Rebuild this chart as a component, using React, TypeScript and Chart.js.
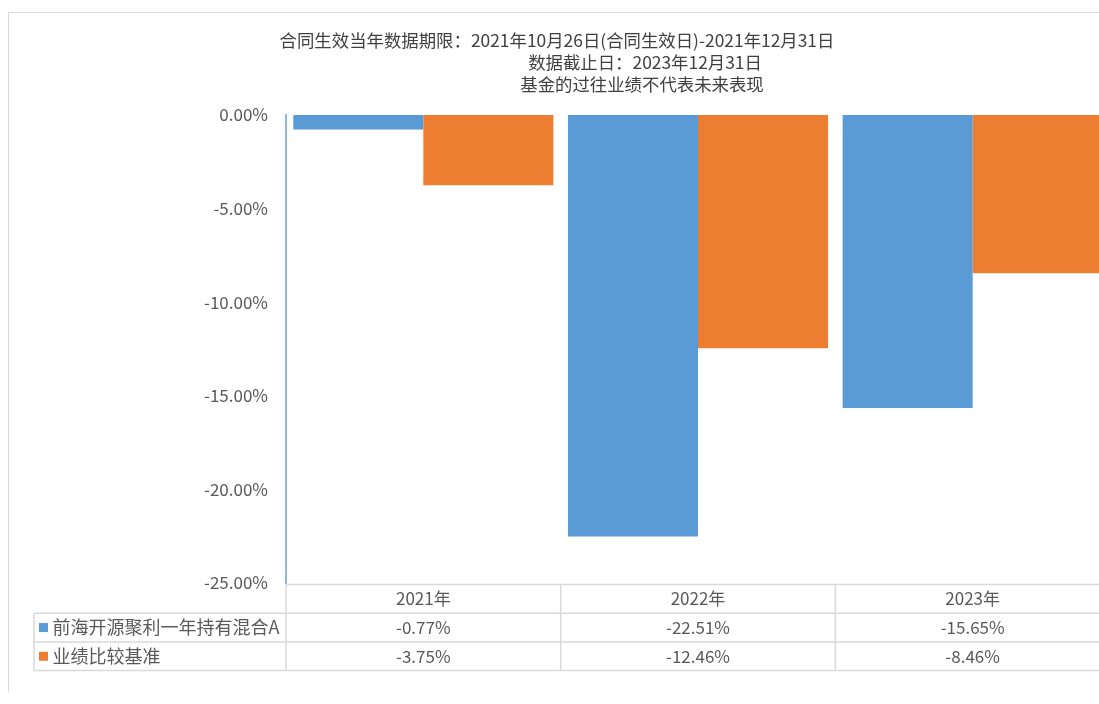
import React, { useEffect, useRef } from "react";
import { Chart, registerables } from "chart.js";

Chart.register(...registerables);

const categories = ["2021年", "2022年", "2023年"];
const seriesNames = ["前海开源聚利一年持有混合A", "业绩比较基准"];
const fundValues = [-0.77, -22.51, -15.65];
const benchValues = [-3.75, -12.46, -8.46];
const tableFund = ["-0.77%", "-22.51%", "-15.65%"];
const tableBench = ["-3.75%", "-12.46%", "-8.46%"];
const titleLines = [
  "合同生效当年数据期限：2021年10月26日(合同生效日)-2021年12月31日",
  "数据截止日：2023年12月31日",
  "基金的过往业绩不代表未来表现",
];
const yMin = -25;
const yMax = 0;
const yStep = 5;

const COLORS = ["#5b9bd5", "#ed7d31"];
const FONT = "'Noto Sans CJK SC', 'Noto Sans', sans-serif";
const TEXT = "#595959";
const LINE = "#d9d9d9";

const CANVAS_W = 1120;
const CANVAS_H = 684;
const AREA_LEFT = 278;
const PAD_TOP = 107;
const PAD_RIGHT = 18;
const PAD_BOTTOM = 109;
const TITLE_POS = [
  { x: 549, y: 32 },
  { x: 637, y: 54 },
  { x: 634, y: 76 },
];

const overlayPlugin = {
  id: "overlay",
  afterDraw(chart: any) {
    const ctx = chart.ctx as CanvasRenderingContext2D;
    const area = chart.chartArea;
    const n = categories.length;
    const colW = (area.right - area.left) / n;
    ctx.save();
    // title
    ctx.fillStyle = "#404040";
    ctx.font = `17.4px ${FONT}`;
    ctx.textAlign = "center";
    ctx.textBaseline = "middle";
    titleLines.forEach((t, i) => ctx.fillText(t, TITLE_POS[i].x, TITLE_POS[i].y));

    // table
    const rowH = 28.7;
    const top = area.bottom + 1.5;
    const legendLeft = 26;
    const right = area.left + colW * n + 20;
    ctx.strokeStyle = LINE;
    ctx.lineWidth = 1.5;
    ctx.beginPath();
    ctx.moveTo(area.left, top);
    ctx.lineTo(right, top);
    for (let r = 1; r <= 3; r++) {
      ctx.moveTo(legendLeft, top + rowH * r);
      ctx.lineTo(right, top + rowH * r);
    }
    ctx.moveTo(legendLeft, top + rowH);
    ctx.lineTo(legendLeft, top + rowH * 3);
    for (let i = 0; i <= n; i++) {
      const x = area.left + colW * i;
      ctx.moveTo(x, top);
      ctx.lineTo(x, top + rowH * 3);
    }
    ctx.stroke();

    ctx.fillStyle = TEXT;
    ctx.font = `17px ${FONT}`;
    ctx.textAlign = "center";
    const xs = chart.scales.x;
    categories.forEach((c, i) => {
      const cx = xs.getPixelForValue(i);
      ctx.fillText(c, cx, top + rowH * 0.5);
      ctx.fillText(tableFund[i], cx, top + rowH * 1.5);
      ctx.fillText(tableBench[i], cx, top + rowH * 2.5);
    });

    ctx.textAlign = "left";
    ctx.font = `18px ${FONT}`;
    seriesNames.forEach((s, i) => {
      const cy = top + rowH * (1.5 + i);
      ctx.fillStyle = COLORS[i];
      ctx.fillRect(legendLeft + 5, cy - 4.5, 9, 9);
      ctx.fillStyle = TEXT;
      ctx.fillText(s, legendLeft + 18.5, cy);
    });
    ctx.restore();
  },
};

export default function App() {
  const ref = useRef<HTMLCanvasElement | null>(null);
  useEffect(() => {
    if (!ref.current) return;
    const chart = new Chart(ref.current, {
      type: "bar",
      data: {
        labels: categories,
        datasets: [
          {
            label: seriesNames[0],
            data: fundValues,
            backgroundColor: COLORS[0],
            barPercentage: 1,
            categoryPercentage: 0.947,
          },
          {
            label: seriesNames[1],
            data: benchValues,
            backgroundColor: COLORS[1],
            barPercentage: 1,
            categoryPercentage: 0.947,
          },
        ],
      },
      options: {
        animation: false,
        responsive: false,
        devicePixelRatio: 1,
        layout: { padding: { left: 0, top: PAD_TOP, right: PAD_RIGHT, bottom: PAD_BOTTOM } },
        plugins: {
          legend: { display: false },
          title: { display: false },
          tooltip: { enabled: false },
        },
        scales: {
          x: { display: false },
          y: {
            min: yMin,
            max: yMax,
            grid: { display: false, drawTicks: false },
            border: { display: true, color: "#8db9e2", width: 2 },
            ticks: {
              stepSize: yStep,
              padding: 18,
              color: TEXT,
              font: { family: FONT, size: 17 },
              callback: (v: any) => Number(v).toFixed(2) + "%",
            },
            afterFit: (s: any) => {
              s.width = AREA_LEFT;
            },
          },
        },
      },
      plugins: [overlayPlugin],
    });
    return () => chart.destroy();
  }, []);

  return (
    <div
      style={{
        position: "fixed",
        left: 8,
        top: 8,
        width: 1091,
        height: CANVAS_H,
        overflow: "hidden",
      }}
    >
      <div
        style={{
          position: "absolute",
          left: 0,
          top: 4,
          width: 1300,
          height: 800,
          borderTop: "1px solid #d9d9d9",
          borderLeft: "1px solid #d9d9d9",
        }}
      />
      <canvas
        ref={ref}
        width={CANVAS_W}
        height={CANVAS_H}
        style={{ position: "absolute", left: 0, top: 0, width: CANVAS_W, height: CANVAS_H }}
      />
    </div>
  );
}
